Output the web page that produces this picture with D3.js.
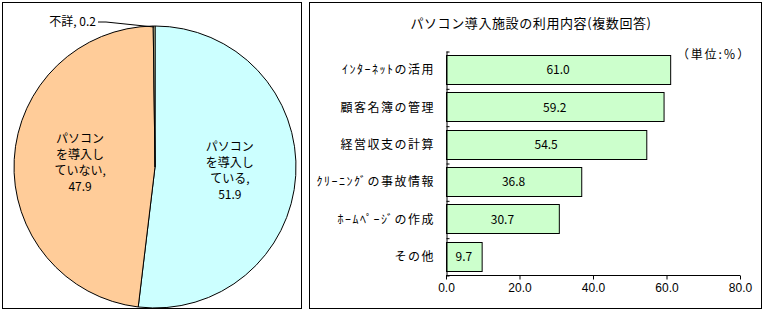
<!DOCTYPE html>
<html>
<head>
<meta charset="utf-8">
<script src="https://cdn.jsdelivr.net/npm/d3@7"></script>
<style>
  body { margin: 0; background: #fff; }
  svg { display: block; font-family: "Noto Sans CJK JP", sans-serif; }
  text { fill: #000; }
</style>
</head>
<body>
<div id="chart"></div>
<script>
// pie: パソコン導入状況
var pieNames = ["パソコンを導入している", "パソコンを導入していない", "不詳"];
var pieValues = [51.9, 47.9, 0.2];
var pieColors = ["#ccffff", "#ffcc99", "#ffffcc"];

// bars: 利用内容
var barTitle = "パソコン導入施設の利用内容(複数回答)";
var categories = ["ｲﾝﾀｰﾈｯﾄの活用", "顧客名簿の管理", "経営収支の計算", "ｸﾘｰﾆﾝｸﾞの事故情報", "ﾎｰﾑﾍﾟｰｼﾞの作成", "その他"];
var barValues = [61.0, 59.2, 54.5, 36.8, 30.7, 9.7];
var xTicks = [0, 20, 40, 60, 80];
var unitLabel = "（単位:％）";

var width = 765, height = 312;
var svg = d3.select("#chart").append("svg").attr("width", width).attr("height", height);

// panel frames
svg.append("rect").attr("x", 2.5).attr("y", 2.5).attr("width", 299).attr("height", 306)
  .attr("fill", "#fff").attr("stroke", "#000");
svg.append("rect").attr("x", 309.5).attr("y", 2.5).attr("width", 452).attr("height", 306)
  .attr("fill", "#fff").attr("stroke", "#000");

// ---- pie ----
var cx = 155, cy = 167, r = 141;
var pieData = pieNames.map(function (n, i) { return { name: n, value: pieValues[i], color: pieColors[i] }; });
var pie = d3.pie().sort(null).value(function (d) { return d.value; });
var arcs = pie(pieData);
var arc = d3.arc().innerRadius(0).outerRadius(r);
var labelArc = d3.arc().innerRadius(75).outerRadius(75);

var gPie = svg.append("g").attr("transform", "translate(" + cx + "," + cy + ")");
gPie.selectAll("path").data(arcs).enter().append("path")
  .attr("d", arc)
  .attr("fill", function (d) { return d.data.color; })
  .attr("stroke", "#000")
  .attr("stroke-width", 1);

// inside labels for the two big slices
arcs.slice(0, 2).forEach(function (d) {
  var c = labelArc.centroid(d);
  var name = d.data.name;
  var lines = [];
  for (var i = 0; i < name.length; i += 4) lines.push(name.slice(i, i + 4));
  lines[lines.length - 1] += ",";
  lines.push(d.data.value.toFixed(1));
  var lh = 16;
  var t = gPie.append("text").attr("text-anchor", "middle").style("font-size", "12px");
  lines.forEach(function (l, i) {
    t.append("tspan").attr("x", c[0]).attr("y", c[1] + (i - (lines.length - 1) / 2) * lh + 4).text(l);
  });
});

// 不詳 label with leader line
var small = arcs[2];
var mid = (small.startAngle + small.endAngle) / 2;
var px = Math.sin(mid) * (r - 1), py = -Math.cos(mid) * (r - 1);
var lx = 98 - cx, ly = 22 - cy;
gPie.append("polyline")
  .attr("points", [[lx, ly], [lx + 8, ly], [px, py]].map(function (p) { return p.join(","); }).join(" "))
  .attr("fill", "none").attr("stroke", "#000");
gPie.append("text").attr("x", lx - 2).attr("y", ly + 4).attr("text-anchor", "end")
  .style("font-size", "12px")
  .text(small.data.name + ", " + small.data.value.toFixed(1));

// ---- bars ----
var x = d3.scaleLinear().domain([0, 80]).range([446, 740]);
var y = d3.scaleBand().domain(categories).range([51, 275]).paddingInner(0.22).paddingOuter(0.11);
var yEdge = d3.scaleLinear().domain([0, categories.length]).range([51, 275]);

svg.append("text").attr("x", 531).attr("y", 28).attr("text-anchor", "middle")
  .style("font-size", "13px").style("letter-spacing", "0.6px").text(barTitle);
svg.append("text").attr("x", 677).attr("y", 59).style("font-size", "12px")
  .style("letter-spacing", "1.8px").text(unitLabel);

var barData = categories.map(function (c, i) { return { cat: c, value: barValues[i] }; });
svg.selectAll("rect.bar").data(barData).enter().append("rect")
  .attr("class", "bar")
  .attr("x", x(0) + 0.5)
  .attr("y", function (d) { return Math.round(y(d.cat)) + 0.5; })
  .attr("width", function (d) { return x(d.value) - x(0); })
  .attr("height", Math.round(y.bandwidth()))
  .attr("fill", "#ccffcc")
  .attr("stroke", "#000");

svg.selectAll("text.val").data(barData).enter().append("text")
  .attr("class", "val")
  .attr("x", function (d) { return (x(0) + x(d.value)) / 2; })
  .attr("y", function (d) { return y(d.cat) + y.bandwidth() / 2 + 4.5; })
  .attr("text-anchor", "middle")
  .style("font-size", "12px")
  .text(function (d) { return d.value.toFixed(1); });

svg.selectAll("text.cat").data(barData).enter().append("text")
  .attr("class", "cat")
  .attr("x", 435)
  .attr("y", function (d) { return y(d.cat) + y.bandwidth() / 2 + 4.5; })
  .attr("text-anchor", "end")
  .style("font-size", "12px")
  .style("letter-spacing", "1.5px")
  .text(function (d) { return d.cat; });

var gX = svg.append("g").attr("transform", "translate(0,275.5)")
  .call(d3.axisBottom(x).tickValues(xTicks).tickSize(4).tickSizeOuter(0).tickPadding(4)
    .tickFormat(d3.format(".1f")));
gX.selectAll("text").style("font-size", "12px").style("font-family", "inherit");
gX.select(".domain").attr("d", "M" + x(0) + ",0H" + x(80));

var gY = svg.append("g").attr("transform", "translate(446.5,0)")
  .call(d3.axisRight(yEdge).ticks(categories.length).tickSize(3).tickSizeOuter(0).tickFormat(""));
gY.selectAll(".tick line").attr("transform", "translate(0,0.5)");
</script>
</body>
</html>
